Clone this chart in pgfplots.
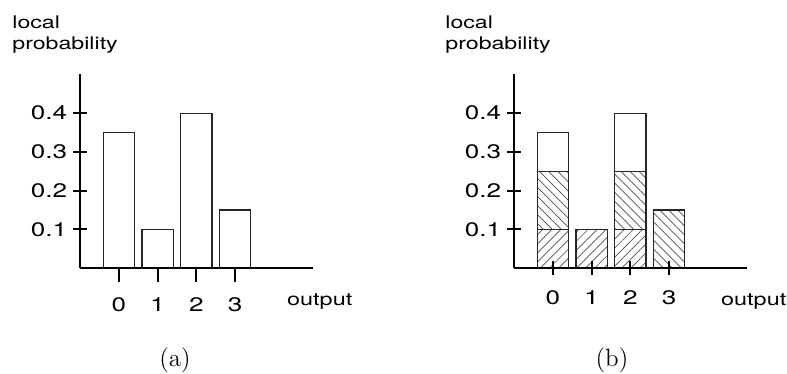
\documentclass[border=0pt]{standalone}
\usepackage{fontspec}
\usepackage{pgfplots}
\pgfplotsset{compat=1.18}
\usetikzlibrary{patterns.meta}
\newfontfamily\hv[FakeStretch=1.33]{TeX Gyre Heros}
\begin{document}
\begin{tikzpicture}
\useasboundingbox (0,0) rectangle (393.5pt,187pt);
\pgfplotsset{
  myaxis/.style={
    x=19.4pt, y=193.5pt,
    xmin=-1, xmax=5, ymin=0, ymax=0.5,
    enlargelimits=false,
    axis x line=bottom, axis y line=left,
    axis line style={-, line width=1pt, black},
    every outer x axis line/.append style={-},
    every outer y axis line/.append style={-},
    xtick={0,1,2,3}, xticklabels={0,1,2,3},
    ytick={0.1,0.2,0.3,0.4}, yticklabels={0.1,0.2,0.3,0.4},
    tick align=center, major tick length=7pt,
    tick style={line width=1pt, black},
    tick label style={font=\hv\fontsize{9.8}{12}\selectfont},
    xticklabel style={anchor=base, inner sep=0pt, yshift=-15pt},
    yticklabel style={anchor=east, inner sep=0pt, xshift=-2.75pt},
    xlabel={output},
    xlabel style={at={(rel axis cs:1,0)}, anchor=base west, inner sep=0pt,
      xshift=-13pt, yshift=-19pt, font=\hv\fontsize{8.8}{11}\selectfont},
    axis on top,
    bar width=0.8,
    anchor=south west,
  },
  bar/.style={draw=black!85, line width=0.6pt, fill=white},
}
\begin{axis}[myaxis, ybar, at={(40pt,53pt)}]
\addplot[bar] coordinates {(0,0.35) (1,0.10) (2,0.40) (3,0.15)};
\end{axis}
\begin{axis}[myaxis, ybar stacked, at={(257pt,53pt)}]
\addplot[draw=black!85, line width=0.6pt,
  pattern={Lines[angle=45,distance=3.2pt,line width=0.35pt]}, pattern color=black!70]
  coordinates {(0,0.10) (1,0.10) (2,0.10) (3,0)};
\addplot[draw=black!85, line width=0.6pt,
  pattern={Lines[angle=-45,distance=3.2pt,line width=0.35pt]}, pattern color=black!70]
  coordinates {(0,0.15) (1,0) (2,0.15) (3,0.15)};
\addplot[bar] coordinates {(0,0.10) (1,0) (2,0.15) (3,0)};
\end{axis}
\node[font=\hv\fontsize{8.7}{10}\selectfont, anchor=base west, inner sep=0pt] at (6pt,172.5pt) {local};
\node[font=\hv\fontsize{8.7}{10}\selectfont, anchor=base west, inner sep=0pt] at (6pt,162.3pt) {probability};
\node[font=\hv\fontsize{8.7}{10}\selectfont, anchor=base west, inner sep=0pt] at (222.5pt,172.5pt) {local};
\node[font=\hv\fontsize{8.7}{10}\selectfont, anchor=base west, inner sep=0pt] at (222.5pt,162.3pt) {probability};
\node[font=\fontsize{12.5}{14}\selectfont] at (87.5pt,7pt) {(a)};
\node[font=\fontsize{12.5}{14}\selectfont] at (306pt,7pt) {(b)};
\end{tikzpicture}
\end{document}
